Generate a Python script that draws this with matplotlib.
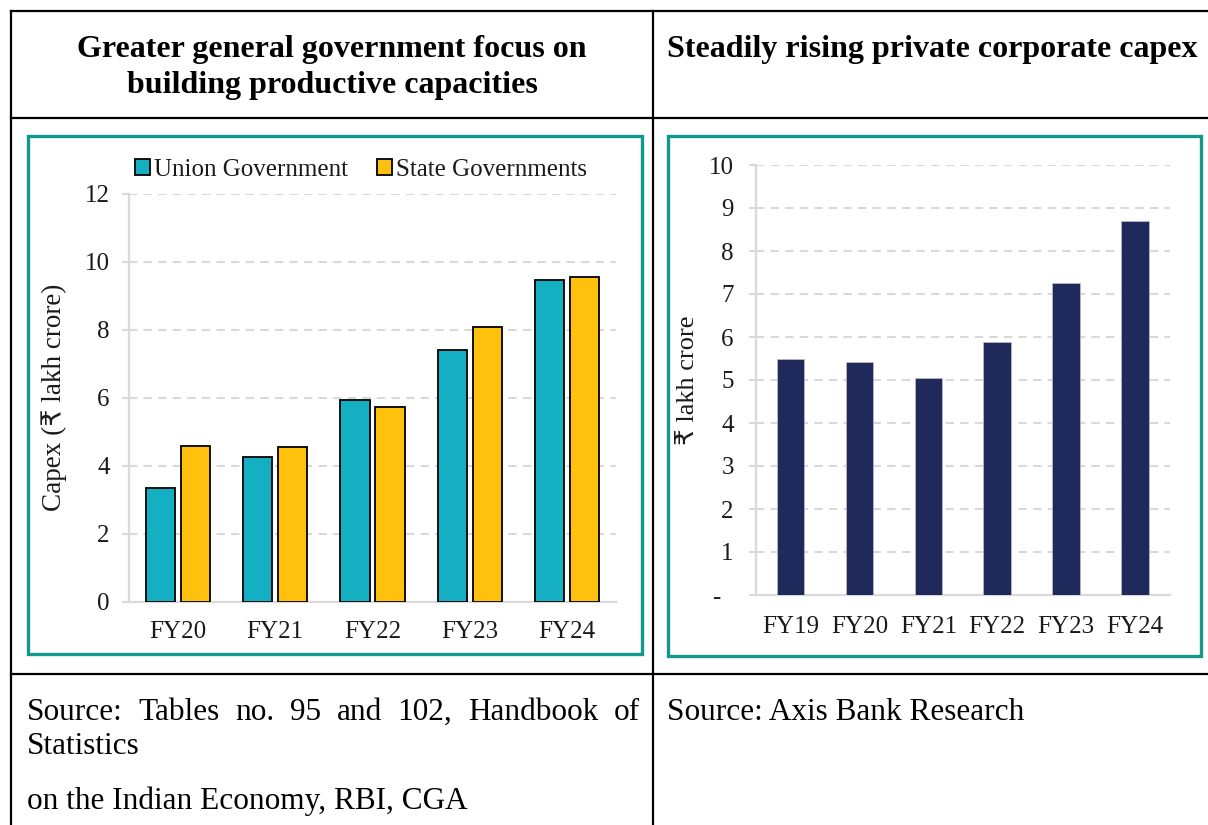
import matplotlib
matplotlib.use("Agg")
import matplotlib.pyplot as plt
import numpy as np
from matplotlib.patches import Rectangle

plt.rcParams['font.family'] = ['Liberation Serif', 'DejaVu Sans']

# data
gov_years = ['FY20', 'FY21', 'FY22', 'FY23', 'FY24']
union_capex = [3.35, 4.26, 5.92, 7.40, 9.47]
state_capex = [4.59, 4.56, 5.74, 8.09, 9.56]

corp_years = ['FY19', 'FY20', 'FY21', 'FY22', 'FY23', 'FY24']
corp_capex = [5.49, 5.43, 5.05, 5.88, 7.25, 8.69]
corp_ticks = [0, 1, 2, 3, 4, 5, 6, 7, 8, 9, 10]
corp_tick_labels = ['-  '] + [str(v) for v in corp_ticks[1:]]

W, H = 1208, 825
fig = plt.figure(figsize=(W / 100, H / 100), dpi=100)

# background layer in pixel coordinates for the table
bg = fig.add_axes([0, 0, 1, 1])
bg.set_xlim(0, W)
bg.set_ylim(H, 0)
bg.axis('off')

lw_table = 1.6
bg.plot([11, W], [11, 11], color='black', lw=lw_table)
bg.plot([11, W], [117.7, 117.7], color='black', lw=lw_table)
bg.plot([11, W], [673.7, 673.7], color='black', lw=lw_table)
bg.plot([11, 11], [11, H], color='black', lw=lw_table)
bg.plot([652.7, 652.7], [11, H], color='black', lw=lw_table)

teal = '#12998b'
bg.add_patch(Rectangle((28, 136), 641.7 - 28, 654 - 136, fill=False, ec=teal, lw=2.4))
bg.add_patch(Rectangle((668.3, 136), 1200.7 - 668.3, 655.7 - 136, fill=False, ec=teal, lw=2.4))

# headers
bg.text(332, 49, 'Greater general government focus on', ha='center', va='center',
        fontsize=23, fontweight='bold', color='black')
bg.text(332, 86, 'building productive capacities', ha='center', va='center',
        fontsize=23, fontweight='bold', color='black')
bg.text(667, 49, 'Steadily rising private corporate capex', ha='left', va='center',
        fontsize=23, fontweight='bold', color='black')

# sources (first line justified between the cell margins)
src_size = 22.5
words = 'Source: Tables no. 95 and 102, Handbook of'.split()
renderer = fig.canvas.get_renderer()
inv = bg.transData.inverted()
word_texts = [bg.text(0, 712, w, ha='left', va='center', fontsize=src_size) for w in words]
widths = []
for t in word_texts:
    bb = t.get_window_extent(renderer)
    widths.append(inv.transform((bb.x1, 0))[0] - inv.transform((bb.x0, 0))[0])
left, right = 27, 640
gap = (right - left - sum(widths)) / (len(words) - 1)
xpos = left
for t, wd in zip(word_texts, widths):
    t.set_x(xpos)
    xpos += wd + gap
bg.text(27, 747, 'Statistics', ha='left', va='center', fontsize=src_size)
bg.text(27, 801, 'on the Indian Economy, RBI, CGA', ha='left', va='center', fontsize=src_size)
bg.text(667, 712, 'Source: Axis Bank Research', ha='left', va='center', fontsize=src_size)


def rect(x0, y0, x1, y1):
    return [x0 / W, 1 - y1 / H, (x1 - x0) / W, (y1 - y0) / H]


grid_c = '#d9d9d9'
txt_c = '#1a1a1a'


def style_axes(ax):
    for s in ['top', 'right']:
        ax.spines[s].set_visible(False)
    for s in ['left', 'bottom']:
        ax.spines[s].set_color(grid_c)
        ax.spines[s].set_linewidth(1.6)
    ax.yaxis.grid(True, color=grid_c, linestyle=(0, (4, 3)), linewidth=1.5)
    ax.set_axisbelow(True)
    ax.tick_params(axis='y', length=5, width=1.5, color=grid_c, labelsize=18,
                   labelcolor=txt_c, pad=9)
    ax.tick_params(axis='x', length=0, labelsize=18, labelcolor=txt_c, pad=14)


# left chart
ax1 = fig.add_axes(rect(129.3, 193.7, 615.8, 601.7))
x = np.arange(len(gov_years))
bw = 0.30
ax1.bar(x - 0.18, union_capex, bw, color='#15afc4', edgecolor='black', linewidth=1.3,
        label='Union Government', zorder=3)
ax1.bar(x + 0.18, state_capex, bw, color='#ffc00e', edgecolor='black', linewidth=1.3,
        label='State Governments', zorder=3)
ax1.set_xlim(-0.5, 4.5)
ax1.set_ylim(0, 12)
ax1.set_yticks([0, 2, 4, 6, 8, 10, 12])
ax1.set_xticks(x)
ax1.set_xticklabels(gov_years)
style_axes(ax1)
ax1.set_ylabel('Capex (₹ lakh crore)', fontsize=19.5, color=txt_c)
ax1.yaxis.set_label_coords(-(129.3 - 67) / (615.8 - 129.3), 0.5)
ax1.legend(loc='center', bbox_to_anchor=(361 / W, 1 - 170 / H), bbox_transform=fig.transFigure,
           ncol=2, frameon=False, fontsize=18, handlelength=0.6, handleheight=0.6,
           handletextpad=0.15, columnspacing=1.15, labelcolor=txt_c)

# right chart
ax2 = fig.add_axes(rect(756, 165, 1169.5, 595))
x2 = np.arange(len(corp_years))
ax2.bar(x2, corp_capex, 0.40, color='#20295b', edgecolor='#b8b8c8', linewidth=0.6, zorder=3)
ax2.set_xlim(-0.5, 5.5)
ax2.set_ylim(0, 10)
ax2.set_yticks(corp_ticks)
ax2.set_yticklabels(corp_tick_labels)
ax2.set_xticks(x2)
ax2.set_xticklabels(corp_years)
style_axes(ax2)
ax2.tick_params(axis='y', pad=11)
ax2.tick_params(axis='x', pad=15)
ax2.set_ylabel('₹ lakh crore', fontsize=19, color=txt_c)
ax2.yaxis.set_label_coords(-(756 - 699) / (1169.5 - 756), 0.5)

fig.savefig('out.png', dpi=100)
